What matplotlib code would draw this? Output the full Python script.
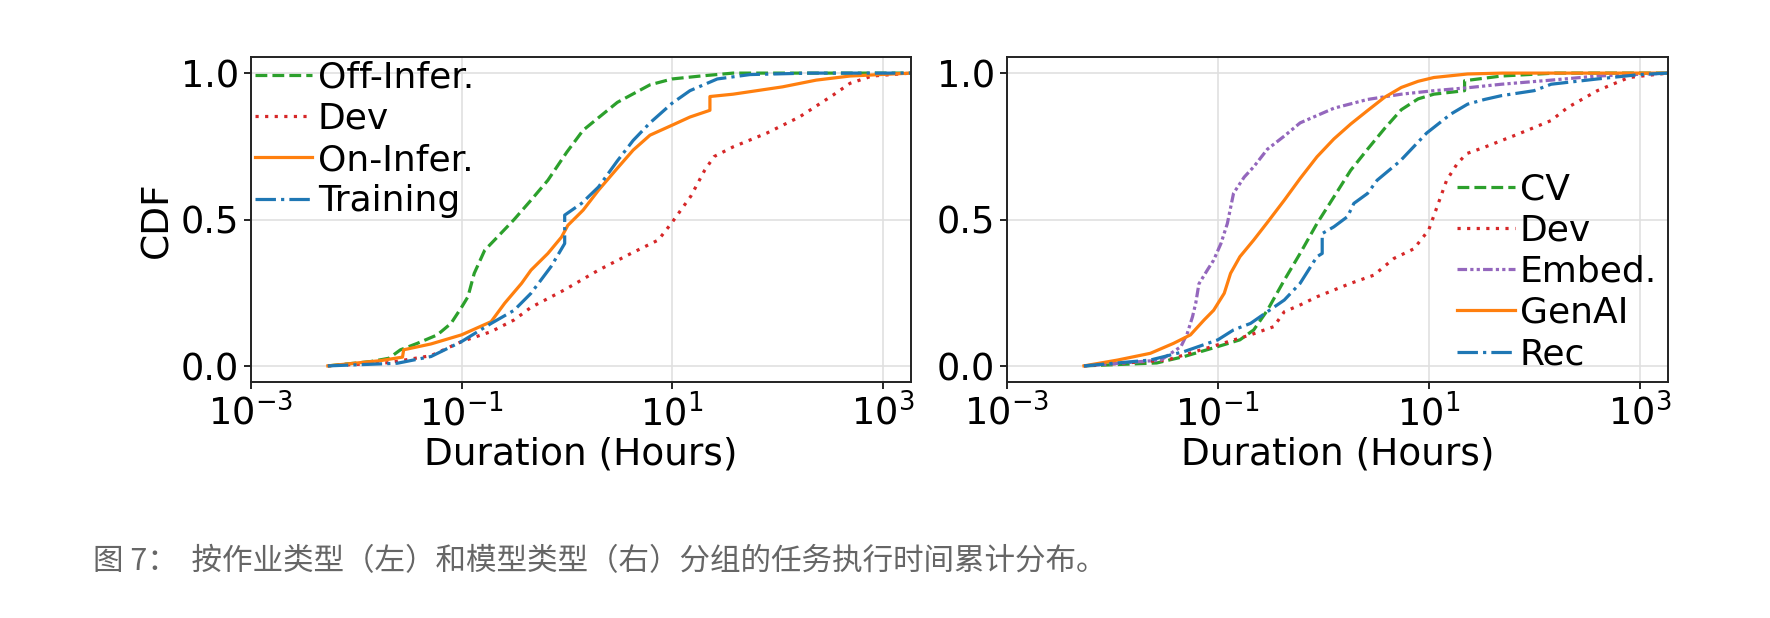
import matplotlib
matplotlib.use("Agg")
import matplotlib.pyplot as plt
from matplotlib.ticker import NullLocator, FixedLocator

# ---- left panel: by job type (duration in hours, CDF) ----
off_infer_x = [0.00537, 0.0138, 0.0204, 0.0263, 0.038, 0.0589, 0.0794, 0.1, 0.115, 0.132,
               0.166, 0.219, 0.316, 0.457, 0.661, 1.0, 1.43, 3.02, 6.17, 10, 18.6, 38, 1860]
off_infer_y = [0.0, 0.015, 0.026, 0.055, 0.077, 0.106, 0.145, 0.20, 0.236, 0.316,
               0.395, 0.44, 0.50, 0.566, 0.634, 0.73, 0.805, 0.90, 0.96, 0.98, 0.99, 1.0, 1.0]

dev_job_x = [0.00537, 0.0204, 0.0513, 0.1, 0.191, 0.316, 0.457, 0.661, 0.955, 2.0, 4.07,
             7.41, 10, 15.1, 20.4, 25.1, 38, 79.4, 162, 339, 490, 794, 1860]
dev_job_y = [0.0, 0.011, 0.035, 0.083, 0.117, 0.157, 0.20, 0.23, 0.26, 0.327, 0.384,
             0.43, 0.49, 0.58, 0.668, 0.715, 0.748, 0.795, 0.85, 0.925, 0.965, 0.99, 1.0]

on_infer_x = [0.00537, 0.0170, 0.0275, 0.0282, 0.0513, 0.1, 0.191, 0.257, 0.372, 0.457,
              0.661, 0.891, 1.023, 1.43, 2.0, 3.02, 4.27, 6.17, 10, 14.8, 22.9, 22.9, 38,
              112, 234, 490, 1860]
on_infer_y = [0.0, 0.018, 0.03, 0.055, 0.075, 0.106, 0.151, 0.214, 0.282, 0.327,
              0.384, 0.44, 0.48, 0.532, 0.60, 0.675, 0.737, 0.788, 0.822, 0.85, 0.873, 0.92,
              0.928, 0.953, 0.976, 0.99, 1.0]

training_x = [0.00537, 0.0245, 0.0513, 0.1, 0.191, 0.316, 0.457, 0.708, 0.955, 0.955, 1.38,
              2.0, 3.02, 4.27, 6.17, 10, 14.8, 26.9, 55, 200, 1860]
training_y = [0.0, 0.009, 0.032, 0.083, 0.145, 0.19, 0.248, 0.339, 0.418, 0.515, 0.555,
              0.611, 0.70, 0.77, 0.83, 0.897, 0.94, 0.98, 0.995, 1.0, 1.0]

# ---- right panel: by model type ----
cv_x = [0.00537, 0.0263, 0.0479, 0.1, 0.162, 0.219, 0.295, 0.427, 0.603, 0.871, 1.26,
        1.82, 2.63, 3.80, 5.5, 7.94, 11.2, 21.9, 21.9, 49, 158, 1860]
cv_y = [0.0, 0.01, 0.032, 0.066, 0.089, 0.123, 0.19, 0.293, 0.384, 0.486, 0.577,
        0.668, 0.74, 0.81, 0.875, 0.912, 0.928, 0.94, 0.974, 0.99, 1.0, 1.0]

dev_model_x = [0.00537, 0.0331, 0.1, 0.204, 0.339, 0.427, 0.603, 0.871, 1.82, 3.02, 4.68,
               7.24, 10, 12.0, 14.8, 18.6, 22.9, 33.9, 70.8, 145, 209, 398, 794, 1860]
dev_model_y = [0.0, 0.02, 0.072, 0.106, 0.134, 0.185, 0.208, 0.236, 0.282, 0.31, 0.367,
               0.40, 0.464, 0.543, 0.634, 0.69, 0.725, 0.747, 0.792, 0.838, 0.883, 0.94,
               0.985, 1.0]

embed_x = [0.00537, 0.0288, 0.0447, 0.0513, 0.0575, 0.0617, 0.0661, 0.0794, 0.0912, 0.107,
           0.123, 0.141, 0.178, 0.219, 0.295, 0.427, 0.603, 1.26, 2.63, 5.5, 11.2, 23.4,
           49, 145, 398, 1860]
embed_y = [0.0, 0.02, 0.066, 0.111, 0.168, 0.214, 0.28, 0.327, 0.361, 0.418,
           0.486, 0.59, 0.645, 0.68, 0.74, 0.785, 0.83, 0.88, 0.91, 0.928, 0.94, 0.95,
           0.962, 0.976, 0.99, 1.0]

genai_x = [0.00537, 0.0112, 0.0229, 0.038, 0.055, 0.0741, 0.0912, 0.115, 0.132, 0.162,
           0.219, 0.295, 0.427, 0.603, 0.871, 1.26, 1.82, 2.63, 3.80, 5.5, 7.94, 11.2,
           23.4, 50, 1860]
genai_y = [0.0, 0.02, 0.043, 0.077, 0.106, 0.157, 0.19, 0.248, 0.316, 0.373,
           0.43, 0.49, 0.566, 0.64, 0.714, 0.775, 0.826, 0.872, 0.917, 0.951, 0.972, 0.985,
           0.997, 1.0, 1.0]

rec_x = [0.00537, 0.0229, 0.0479, 0.1, 0.141, 0.204, 0.295, 0.427, 0.603, 0.871, 0.977,
         0.977, 1.26, 1.70, 1.95, 2.63, 3.24, 5.37, 9.55, 16.2, 23.4, 33.9, 49, 100, 145,
         398, 1000, 1860]
rec_y = [0.0, 0.02, 0.049, 0.089, 0.123, 0.145, 0.185, 0.225, 0.282, 0.373, 0.384,
         0.452, 0.475, 0.51, 0.555, 0.589, 0.634, 0.70, 0.795, 0.86, 0.894, 0.91, 0.923,
         0.94, 0.962, 0.98, 0.995, 1.0]

caption = "图 7：  按作业类型（左）和模型类型（右）分组的任务执行时间累计分布。"

green, red, orange, blue, purple = "#2ca02c", "#d62728", "#ff7f0e", "#1f77b4", "#9467bd"
lw = 2.3
dotted = (0, (1, 2))

fig = plt.figure(figsize=(17.7, 6.18), dpi=100)
W, H = 1770, 618
ax1 = fig.add_axes([251 / W, 1 - 382 / H, 660 / W, 325 / H])
ax2 = fig.add_axes([1007 / W, 1 - 382 / H, 661 / W, 325 / H])

ax1.plot(off_infer_x, off_infer_y, "--", color=green, lw=lw, label="Off-Infer.")
ax1.plot(dev_job_x, dev_job_y, linestyle=dotted, color=red, lw=lw, label="Dev")
ax1.plot(on_infer_x, on_infer_y, "-", color=orange, lw=lw, label="On-Infer.")
ax1.plot(training_x, training_y, "-.", color=blue, lw=lw, label="Training")

ax2.plot(cv_x, cv_y, "--", color=green, lw=lw, label="CV")
ax2.plot(dev_model_x, dev_model_y, linestyle=dotted, color=red, lw=lw, label="Dev")
ax2.plot(embed_x, embed_y, linestyle=(0, (3, 1, 1, 1, 1, 1)), color=purple, lw=lw, label="Embed.")
ax2.plot(genai_x, genai_y, "-", color=orange, lw=lw, label="GenAI")
ax2.plot(rec_x, rec_y, "-.", color=blue, lw=lw, label="Rec")

for ax in (ax1, ax2):
    ax.set_xscale("log")
    ax.set_xlim(1e-3, 10 ** 3.27)
    ax.set_ylim(-0.055, 1.055)
    ax.xaxis.set_major_locator(FixedLocator([1e-3, 1e-1, 1e1, 1e3]))
    ax.xaxis.set_minor_locator(NullLocator())
    ax.set_yticks([0.0, 0.5, 1.0])
    ax.tick_params(labelsize=26.5, length=5, width=1.2)
    ax.grid(True, color="#e0e0e0", lw=1.2)
    ax.set_axisbelow(True)
    for s in ax.spines.values():
        s.set_linewidth(1.4)
        s.set_color("#222222")
    ax.set_xlabel("Duration (Hours)", fontsize=27, labelpad=2)

ax1.set_ylabel("CDF", fontsize=27)

ax1.legend(loc="upper left", frameon=False, fontsize=26, handlelength=1.6,
           handletextpad=0.15, labelspacing=0.2, borderpad=0.0, borderaxespad=0.1)
ax2.legend(loc="lower right", frameon=False, fontsize=26, handlelength=1.6,
           handletextpad=0.15, labelspacing=0.2, borderpad=0.05, borderaxespad=0.25)

fig.text(93 / W, 1 - 562 / H, caption, fontsize=22, color="#666666", va="center",
         family=["Noto Sans CJK SC", "DejaVu Sans"])

fig.savefig("out.png", dpi=100)
